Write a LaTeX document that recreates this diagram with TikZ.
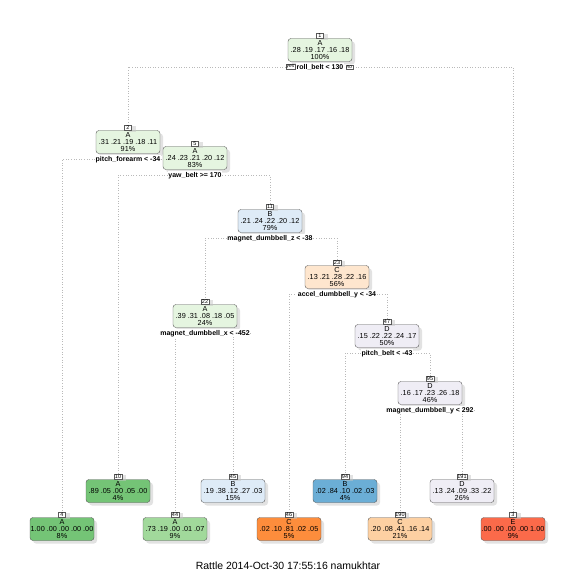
\documentclass[tikz,border=0pt]{standalone}
\usepackage{fontspec}
\setmainfont{Liberation Sans}
\usetikzlibrary{positioning, shadows, backgrounds}
\definecolor{alite}{HTML}{E5F5E0}
\definecolor{amid}{HTML}{A1D99B}
\definecolor{adark}{HTML}{74C476}
\definecolor{blite}{HTML}{DEEBF7}
\definecolor{bdark}{HTML}{6BAED6}
\definecolor{clite}{HTML}{FEE6CE}
\definecolor{cmid}{HTML}{FDD0A2}
\definecolor{cdark}{HTML}{FD8D3C}
\definecolor{dlite}{HTML}{EFEDF5}
\definecolor{edark}{HTML}{FB6A4A}

\begin{document}
\begin{tikzpicture}[x=1bp, y=-1bp,
    tnode/.style={draw=gray!70!black, rounded corners=3bp, minimum width=64bp, minimum height=23bp,
      inner sep=0pt, align=center, font=\fontsize{7.3}{7.4}\selectfont,
      drop shadow={shadow xshift=3bp, shadow yshift=-3bp, fill=gray!45}},
    numl/.style={draw=gray!70!black, fill=white, inner sep=0.7bp, minimum width=7bp,
      font=\fontsize{5.5}{5.5}\selectfont, drop shadow={shadow xshift=4bp, shadow yshift=-1.5bp, fill=gray!45}},
    splitl/.style={fill=white, inner sep=0.6bp, font=\fontsize{7}{8}\selectfont\bfseries},
    yesno/.style={draw=gray!70!black, fill=white, inner sep=0.8bp, font=\fontsize{5}{5}\selectfont\itshape},
    edge/.style={gray!55, dotted, line width=0.6bp}]
    \useasboundingbox (0,0) rectangle (576,576);

    % split nodes
    \node[tnode, fill=alite] (n1) at (320,50) {A\\.28 .19 .17 .16 .18\\100\%};
    \node[tnode, fill=alite] (n2) at (128,142) {A\\.31 .21 .19 .18 .11\\91\%};
    \node[tnode, fill=alite] (n5) at (195,158) {A\\.24 .23 .21 .20 .12\\83\%};
    \node[tnode, fill=blite] (n11) at (270,221) {B\\.21 .24 .22 .20 .12\\79\%};
    \node[tnode, fill=clite] (n23) at (337,277) {C\\.13 .21 .28 .22 .16\\56\%};
    \node[tnode, fill=alite] (n22) at (205,316) {A\\.39 .31 .08 .18 .05\\24\%};
    \node[tnode, fill=dlite] (n47) at (387,336) {D\\.15 .22 .22 .24 .17\\50\%};
    \node[tnode, fill=dlite] (n95) at (430,393) {D\\.16 .17 .23 .26 .18\\46\%};

    % leaves
    \node[tnode, fill=adark] (n10) at (118,491) {A\\.89 .05 .00 .05 .00\\4\%};
    \node[tnode, fill=blite] (n45) at (233,491) {B\\.19 .38 .12 .27 .03\\15\%};
    \node[tnode, fill=bdark] (n94) at (345,491) {B\\.02 .84 .10 .02 .03\\4\%};
    \node[tnode, fill=dlite] (n191) at (462,491) {D\\.13 .24 .09 .33 .22\\26\%};
    \node[tnode, fill=adark] (n4) at (62,529) {A\\1.00 .00 .00 .00 .00\\8\%};
    \node[tnode, fill=amid] (n44) at (175,529) {A\\.73 .19 .00 .01 .07\\9\%};
    \node[tnode, fill=cdark] (n46) at (289,529) {C\\.02 .10 .81 .02 .05\\5\%};
    \node[tnode, fill=cmid] (n190) at (400,529) {C\\.20 .08 .41 .16 .14\\21\%};
    \node[tnode, fill=edark] (n3) at (513,529) {E\\.00 .00 .00 .00 1.00\\9\%};

    % node numbers
    \node[numl, above=0pt of n1] (k1) {1};
    \node[numl, above=0pt of n2] (k2) {2};
    \node[numl, above=0pt of n5] (k5) {5};
    \node[numl, above=0pt of n11] (k11) {11};
    \node[numl, above=0pt of n23] (k23) {23};
    \node[numl, above=0pt of n22] (k22) {22};
    \node[numl, above=0pt of n47] (k47) {47};
    \node[numl, above=0pt of n95] (k95) {95};
    \node[numl, above=0pt of n10] (k10) {10};
    \node[numl, above=0pt of n45] (k45) {45};
    \node[numl, above=0pt of n94] (k94) {94};
    \node[numl, above=0pt of n191] (k191) {191};
    \node[numl, above=0pt of n4] (k4) {4};
    \node[numl, above=0pt of n44] (k44) {44};
    \node[numl, above=0pt of n46] (k46) {46};
    \node[numl, above=0pt of n190] (k190) {190};
    \node[numl, above=0pt of n3] (k3) {3};

    % split rules
    \node[splitl, below=1.5bp of n1] (s1) {roll\_belt < 130};
    \node[yesno, left=0.5bp of s1] (yes) {yes};
    \node[yesno, right=1.5bp of s1] (no) {no};
    \node[splitl, below=1.5bp of n2] (s2) {pitch\_forearm < -34};
    \node[splitl, below=1.5bp of n5] (s5) {yaw\_belt >= 170};
    \node[splitl, below=1.5bp of n11] (s11) {magnet\_dumbbell\_z < -38};
    \node[splitl, below=1.5bp of n23] (s23) {accel\_dumbbell\_y < -34};
    \node[splitl, below=1.5bp of n22] (s22) {magnet\_dumbbell\_x < -452};
    \node[splitl, below=1.5bp of n47] (s47) {pitch\_belt < -43};
    \node[splitl, below=1.5bp of n95] (s95) {magnet\_dumbbell\_y < 292};

    \begin{scope}[on background layer]
      \draw[edge] (yes.west) -| (k2.north);
      \draw[edge] (no.east) -| (k3.north);
      \draw[edge] (s2.west) -| (k4.north);
      \draw[edge] (s2.east) -| (k5.north);
      \draw[edge] (s5.west) -| (k10.north);
      \draw[edge] (s5.east) -| (k11.north);
      \draw[edge] (s11.west) -| (k22.north);
      \draw[edge] (s11.east) -| (k23.north);
      \draw[edge] (s22.west) -| (k44.north);
      \draw[edge] (s22.east) -| (k45.north);
      \draw[edge] (s23.west) -| (k46.north);
      \draw[edge] (s23.east) -| (k47.north);
      \draw[edge] (s47.west) -| (k94.north);
      \draw[edge] (s47.east) -| (k95.north);
      \draw[edge] (s95.west) -| (k190.north);
      \draw[edge] (s95.east) -| (k191.north);
    \end{scope}

    \node[font=\fontsize{10.5}{12}\selectfont] (cap) at (288,566) {Rattle 2014-Oct-30 17:55:16 namukhtar};
\end{tikzpicture}
\end{document}
